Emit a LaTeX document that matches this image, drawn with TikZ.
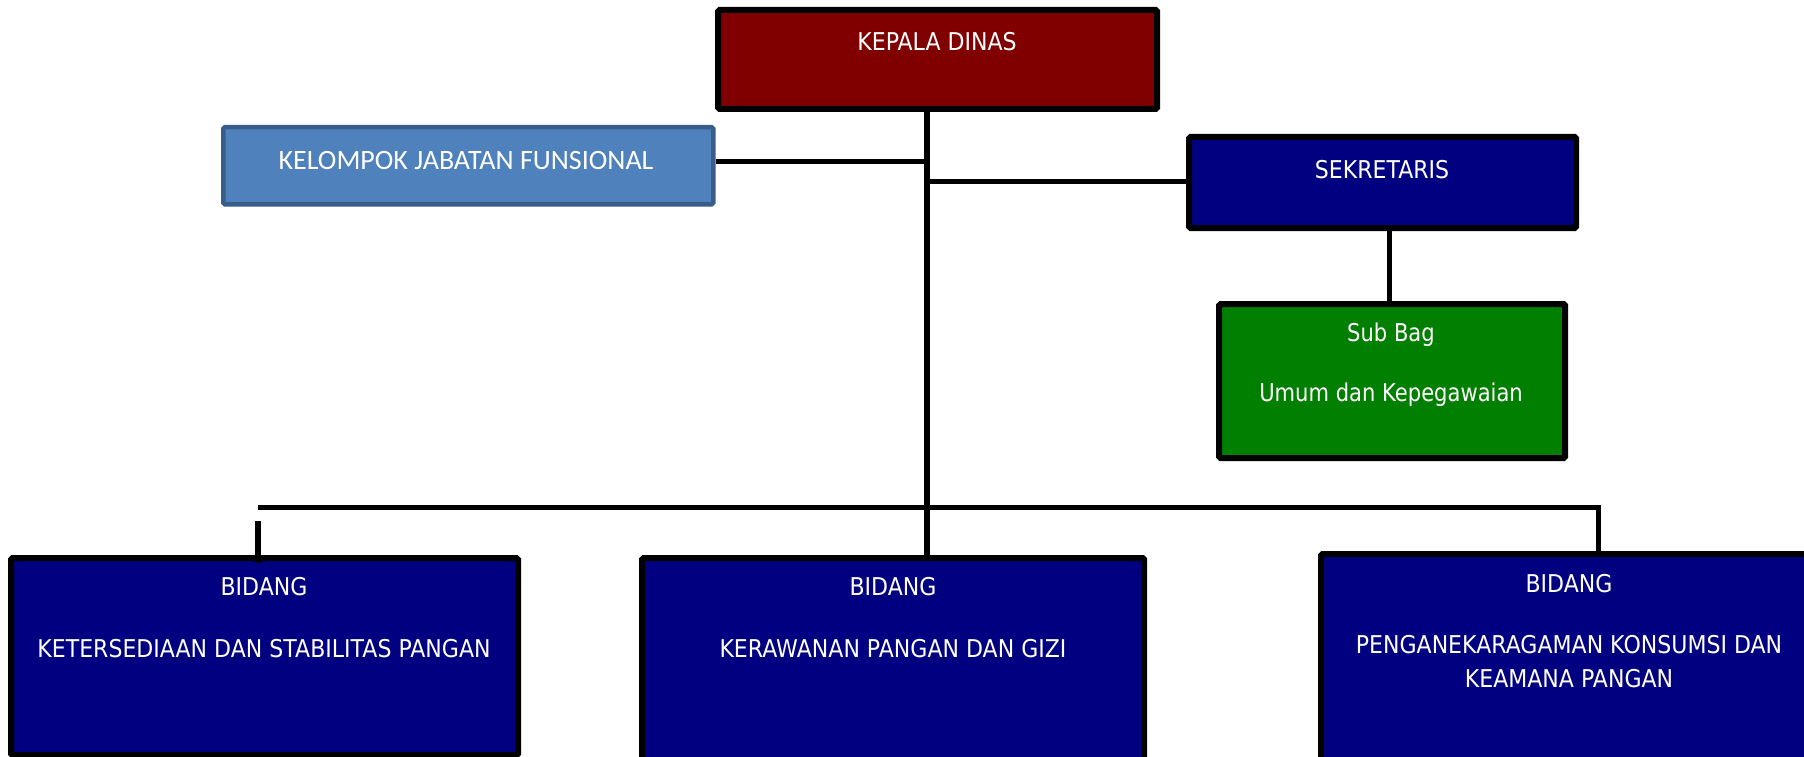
\documentclass[tikz,border=0pt]{standalone}
\usepackage{fontspec}
\usetikzlibrary{calc}
\newfontfamily\tahfont[FakeStretch=0.9]{DejaVu Sans}
\newfontfamily\tahlow[FakeStretch=0.86]{DejaVu Sans}
\newfontfamily\calfont{Carlito}
\definecolor{kepala}{HTML}{800000}
\definecolor{navy}{HTML}{000080}
\definecolor{subgreen}{HTML}{007F00}
\definecolor{kelfill}{HTML}{4F81BD}
\definecolor{keldraw}{HTML}{385D8A}
\begin{document}
\begin{tikzpicture}[x=1pt,y=-1pt,
  box/.style={draw=black, line width=6pt, rounded corners=1.5pt, inner sep=0pt, anchor=north west},
  lbl/.style={text=white, anchor=base, inner sep=0pt, font=\tahfont\fontsize{24.5}{29}\selectfont},
  lbllow/.style={text=white, anchor=base, inner sep=0pt, font=\tahlow\fontsize{24.5}{29}\selectfont},
  conn/.style={draw=black, line width=5pt}]
\useasboundingbox (0,0) rectangle (1804,757);
\clip (0,0) rectangle (1804,757);
% boxes
\node[box, fill=kepala, minimum width=439pt, minimum height=99pt] (kd) at (715,7) {};
\node[box, draw=keldraw, line width=4.5pt, fill=kelfill, minimum width=490pt, minimum height=77pt] (kj) at (221,125) {};
\node[box, fill=navy, minimum width=387pt, minimum height=91pt] (sk) at (1186,134) {};
\node[box, fill=subgreen, minimum width=346pt, minimum height=154pt] (sb) at (1216,301) {};
\node[box, fill=navy, minimum width=507pt, minimum height=197pt] (b1) at (8,555) {};
\node[box, fill=navy, minimum width=502pt, minimum height=210pt] (b2) at (639,555) {};
\node[box, fill=navy, minimum width=497pt, minimum height=230pt] (b3) at (1318,551) {};
% texts
\node[lbl] (tkd) at (937,51) {KEPALA DINAS};
\node[text=white, anchor=base, inner sep=0pt, font=\calfont\fontsize{28}{33}\selectfont] (tkj) at (466,169) {KELOMPOK JABATAN FUNSIONAL};
\node[lbl] (tsk) at (1382,178) {SEKRETARIS};
\node[lbllow] (tsb1) at (1391,341) {Sub Bag};
\node[lbllow] (tsb2) at (1391,401) {Umum dan Kepegawaian};
\node[lbl] (tb1a) at (264,595) {BIDANG};
\node[lbl] (tb1b) at (264,657) {KETERSEDIAAN DAN STABILITAS PANGAN};
\node[lbl] (tb2a) at (893,595) {BIDANG};
\node[lbl] (tb2b) at (893,657) {KERAWANAN PANGAN DAN GIZI};
\node[lbl] (tb3a) at (1569,592) {BIDANG};
\node[lbl] (tb3b) at (1569,653) {PENGANEKARAGAMAN KONSUMSI DAN};
\node[lbl] (tb3c) at (1569,687) {KEAMANA PANGAN};
% connectors
\coordinate (tx) at (927,0);
\coordinate (jk) at (927,161);
\coordinate (js) at (927,181);
\coordinate (sx) at (1389,0);
\coordinate (bl) at (258,507);
\coordinate (br) at (1598,507);
\coordinate (ld) at (258,521);
\draw[conn, line width=6pt] (tx |- kd.south) -- (tx |- b2.north);
\draw[conn] (kj.east |- jk) -- (jk);
\draw[conn] (js) -- (js -| sk.west);
\draw[conn] (sx |- sk.south) -- (sx |- sb.north);
\draw[conn] (bl) -- (br) -- (br |- b3.north);
\draw[conn, line width=6pt] (ld) -- ($(ld |- b1.north)+(0,8)$);
\end{tikzpicture}
\end{document}
